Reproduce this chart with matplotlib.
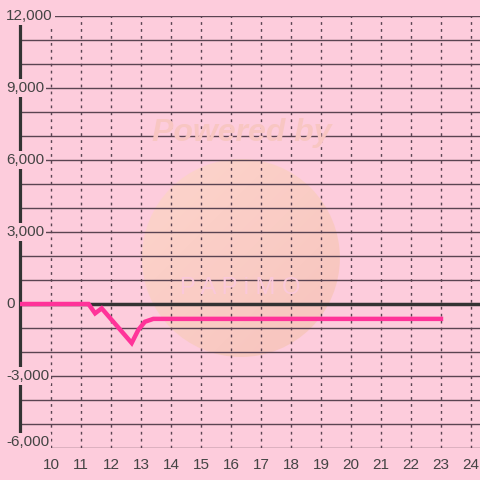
import matplotlib
matplotlib.use('Agg')
import matplotlib.pyplot as plt
import numpy as np
from matplotlib.patches import Ellipse

# --- データ ---
hours = [9.0, 11.25, 11.47, 11.69, 12.69, 12.91, 13.13, 13.41, 23.0]
values = [0, 0, -390, -180, -1625, -1080, -740, -620, -620]

x_ticks = list(range(10, 25))
y_ticks = [12000, 9000, 6000, 3000, 0, -3000, -6000]
y_tick_labels = ['12,000', '9,000', '6,000', '3,000', '0', '-3,000', '-6,000']

bg = '#FDCCDC'
grid_col = '#5A4452'
text_col = '#444444'
plt.rcParams['font.family'] = ['Liberation Sans', 'DejaVu Sans']

fig = plt.figure(figsize=(4.8, 4.8), dpi=100, facecolor=bg)
ax = fig.add_axes([20 / 480, 32 / 480, 460 / 480, 432 / 480])
ax.set_facecolor(bg)
ax.set_xlim(8.967, 24.3)
ax.set_ylim(-6000, 12000)

# 透かし (Powered by ロゴ) : 斜めグラデーションの円
cx, cy, rx, ry = 16.33, 1917, 3.3, 4125
t = np.linspace(0, 1, 200)
gx, gy = np.meshgrid(t, t)
g = (gx + gy) / 2
c0 = np.array([253, 215, 202]) / 255
c1 = np.array([247, 194, 184]) / 255
img = c0[None, None, :] * (1 - g[..., None]) + c1[None, None, :] * g[..., None]
ell = Ellipse((cx, cy), 2 * rx, 2 * ry, facecolor='none', edgecolor='none')
ax.add_patch(ell)
im = ax.imshow(img, extent=[cx - rx, cx + rx, cy - ry, cy + ry], origin='upper',
               aspect='auto', zorder=0.5, alpha=0.85)
im.set_clip_path(ell)
fig.text(242 / 480, 1 - 133 / 480, 'Powered by', ha='center', va='center',
         fontsize=23, fontweight='bold', fontstyle='italic', color='#F8C6C2', zorder=0.6)
fig.text(240 / 480, 1 - 288 / 480, 'P A P i M O', ha='center', va='center',
         fontsize=17, color='#FAC8DA', zorder=0.6)

# グリッド
for v in range(-6000, 12001, 1000):
    ax.axhline(v, color=grid_col, lw=1.0, zorder=1)
for xv in x_ticks:
    ax.axvline(xv, color=grid_col, lw=1.0, ls=(0, (2, 3)), zorder=1)
ax.axhline(0, color='#333333', lw=2.5, zorder=2)
ax.axvline(8.967, color='#333333', lw=2.3, zorder=2, clip_on=False)

# 折れ線
ax.plot(hours, values, color='#FF3399', lw=3.2, solid_joinstyle='miter', zorder=3)

for s in ax.spines.values():
    s.set_visible(False)

ax.set_yticks([])
ax.set_xticks(x_ticks)
ax.set_xticklabels([str(t) for t in x_ticks], fontsize=11, color=text_col)
ax.tick_params(axis='x', length=0, pad=7)

# y 軸ラベル (背景付き)
for v, lab in zip(y_ticks, y_tick_labels):
    yy = v + 250 if v == -6000 else v
    ax.text(-0.030, yy, lab, transform=ax.get_yaxis_transform(), ha='left', va='center',
            fontsize=11, color=text_col, zorder=5, clip_on=False,
            bbox=dict(facecolor=bg, edgecolor='none', pad=1.5))

fig.savefig('out.png', dpi=100, facecolor=bg)
